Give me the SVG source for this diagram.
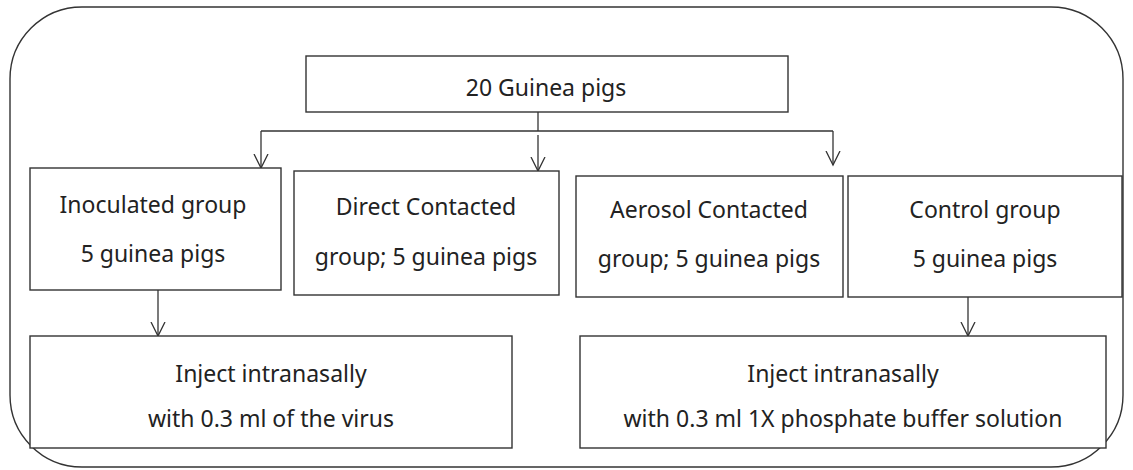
<svg xmlns="http://www.w3.org/2000/svg" width="1133" height="470" viewBox="0 0 1133 470">
<defs>
<style>
.box{fill:#fff;stroke:#333;stroke-width:1.4}
.t{font-family:"Noto Sans","Open Sans",sans-serif;font-size:23px;fill:#222;text-anchor:middle}
.c{fill:none;stroke:#333;stroke-width:1.3}
</style>
<marker id="a" markerWidth="16" markerHeight="16" refX="14" refY="8" orient="auto" markerUnits="userSpaceOnUse" viewBox="0 0 16 16">
<path d="M0,1 L14,8 L0,15" fill="none" stroke="#333" stroke-width="1.3"/>
</marker>
</defs>
<rect id="frame" x="10" y="7" width="1113" height="460" rx="72" ry="72" fill="none" stroke="#333" stroke-width="1.4"/>
<g id="connectors">
<path class="c" d="M538,112 V131"/>
<path class="c" d="M261,131 H833"/>
<path class="c" d="M261,131 V168" marker-end="url(#a)"/>
<path class="c" d="M538,135 V171" marker-end="url(#a)"/>
<path class="c" d="M833,131 V165" marker-end="url(#a)"/>
<path class="c" d="M158,290 V336" marker-end="url(#a)"/>
<path class="c" d="M968,297 V336" marker-end="url(#a)"/>
</g>
<g id="n-top"><rect class="box" x="306" y="56" width="482" height="56"/><text class="t" x="546" y="96">20 Guinea pigs</text></g>
<g id="n-inoc"><rect class="box" x="30" y="168" width="251" height="122"/><text class="t" x="153" y="213">Inoculated group</text><text class="t" x="153" y="262">5 guinea pigs</text></g>
<g id="n-direct"><rect class="box" x="294" y="171" width="265" height="124"/><text class="t" x="426" y="215">Direct Contacted</text><text class="t" x="426" y="265">group; 5 guinea pigs</text></g>
<g id="n-aerosol"><rect class="box" x="576" y="176" width="267" height="121"/><text class="t" x="709" y="218">Aerosol Contacted</text><text class="t" x="709" y="267">group; 5 guinea pigs</text></g>
<g id="n-control"><rect class="box" x="848" y="176" width="274" height="121"/><text class="t" x="985" y="218">Control group</text><text class="t" x="985" y="267">5 guinea pigs</text></g>
<g id="n-inject1"><rect class="box" x="30" y="336" width="482" height="112"/><text class="t" x="271" y="382">Inject intranasally</text><text class="t" x="271" y="427">with 0.3 ml of the virus</text></g>
<g id="n-inject2"><rect class="box" x="580" y="336" width="526" height="112"/><text class="t" x="843" y="382">Inject intranasally</text><text class="t" x="843" y="427">with 0.3 ml 1X phosphate buffer solution</text></g>
</svg>
